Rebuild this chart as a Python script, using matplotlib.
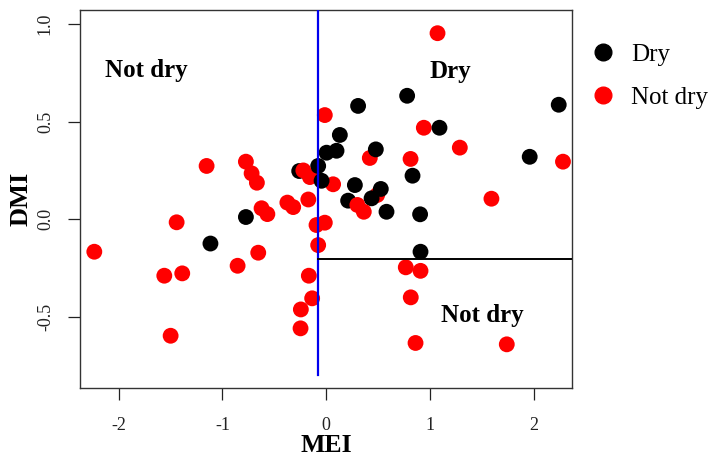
import matplotlib
matplotlib.use("Agg")
import matplotlib.pyplot as plt
from matplotlib.lines import Line2D

plt.rcParams["font.family"] = ["Liberation Serif", "DejaVu Serif"]
plt.rcParams["axes.unicode_minus"] = False

# Observations: MEI, DMI and whether the season was dry
mei = [0.942, 0.421, 0.492, -0.157, 0.067,
       0.781, 0.308, 2.243, 1.093, 1.963, 0.132, 0.004, 0.100, 0.479, 0.833,
       0.277, -0.077, -0.044, -0.260, 0.527, 0.438, 0.212, 0.582, 0.906,
       -0.774, -1.116, 0.910,
       -1.153, -0.774, -0.719, -0.668, -0.623, -0.567, -1.442, -0.374, -0.318,
       -0.172, -0.013, -0.220, 0.301, 0.363, -0.093, -0.013, 1.074, 1.289,
       0.814, 2.284, 1.594, -2.236, -1.561, -1.388, -1.500, -0.655, -0.854,
       -0.077, -0.167, -0.135, -0.244, -0.247, 0.768, 0.910, 0.816, 0.862,
       1.742]
dmi = [0.469, 0.314, 0.124, 0.216, 0.179,
       0.633, 0.581, 0.587, 0.469, 0.320, 0.432, 0.341, 0.351, 0.358, 0.223,
       0.175, 0.273, 0.197, 0.247, 0.155, 0.107, 0.095, 0.038, 0.025,
       0.011, -0.125, -0.167,
       0.273, 0.295, 0.235, 0.187, 0.056, 0.026, -0.016, 0.085, 0.062,
       0.101, 0.534, 0.250, 0.073, 0.038, -0.030, -0.018, 0.954, 0.367,
       0.309, 0.295, 0.105, -0.167, -0.290, -0.278, -0.598, -0.172, -0.239,
       -0.133, -0.290, -0.406, -0.463, -0.560, -0.247, -0.265, -0.401, -0.635,
       -0.642]
dry = [False] * 5 + [True] * 22 + [False] * 37

# Classification thresholds
mei_threshold = -0.08
dmi_threshold = -0.205
mei_line_bottom = -0.80

class_labels = ["Dry", "Not dry"]
class_colors = ["black", "red"]

fig = plt.figure(figsize=(7.11, 4.59), dpi=100)
ax = fig.add_axes([80 / 711, 1 - 388 / 459, 492 / 711, 378 / 459])

colors = [class_colors[0] if d else class_colors[1] for d in dry]
ax.scatter(mei, dmi, s=130, c=colors, linewidths=0, zorder=2)

ax.plot([mei_threshold, mei_threshold], [mei_line_bottom, 2.0],
        color="#0000ee", lw=1.6, zorder=3)
ax.plot([mei_threshold, 3.0], [dmi_threshold, dmi_threshold],
        color="black", lw=1.4, zorder=3)

ax.set_xlim(-2.374, 2.371)
ax.set_ylim(-0.866, 1.073)
ax.set_xticks([-2, -1, 0, 1, 2])
ax.set_yticks([-0.5, 0.0, 0.5, 1.0])
ax.set_xticklabels(["-2", "-1", "0", "1", "2"])
ax.set_yticklabels(["-0.5", "0.0", "0.5", "1.0"], rotation=90, va="center")

ax.tick_params(axis="both", direction="out", length=8.8, width=0.9,
               labelsize=13, colors="#222222")
ax.tick_params(axis="x", pad=12)
ax.tick_params(axis="y", pad=10)
for sp in ax.spines.values():
    sp.set_color("#333333")
    sp.set_linewidth(1.0)

ax.set_xlabel("MEI", fontsize=18.5, fontweight="bold", labelpad=0)
ax.set_ylabel("DMI", fontsize=19, fontweight="bold", labelpad=3)

ax.text(-1.738, 0.765, "Not dry", fontsize=18, fontweight="bold",
        ha="center", va="center")
ax.text(1.195, 0.756, "Dry", fontsize=18, fontweight="bold",
        ha="center", va="center")
ax.text(1.506, -0.496, "Not dry", fontsize=18, fontweight="bold",
        ha="center", va="center")

handles = [Line2D([], [], ls="none", marker="o", markersize=12,
                  markerfacecolor=c, markeredgecolor=c) for c in class_colors]
fig.legend(handles, class_labels, loc="upper left",
           bbox_to_anchor=(590 / 711, 1 - 43 / 459), frameon=False,
           fontsize=18, handlelength=1.0, handletextpad=0.64,
           labelspacing=0.84, borderpad=0, borderaxespad=0)

fig.savefig("out.png", dpi=100)
